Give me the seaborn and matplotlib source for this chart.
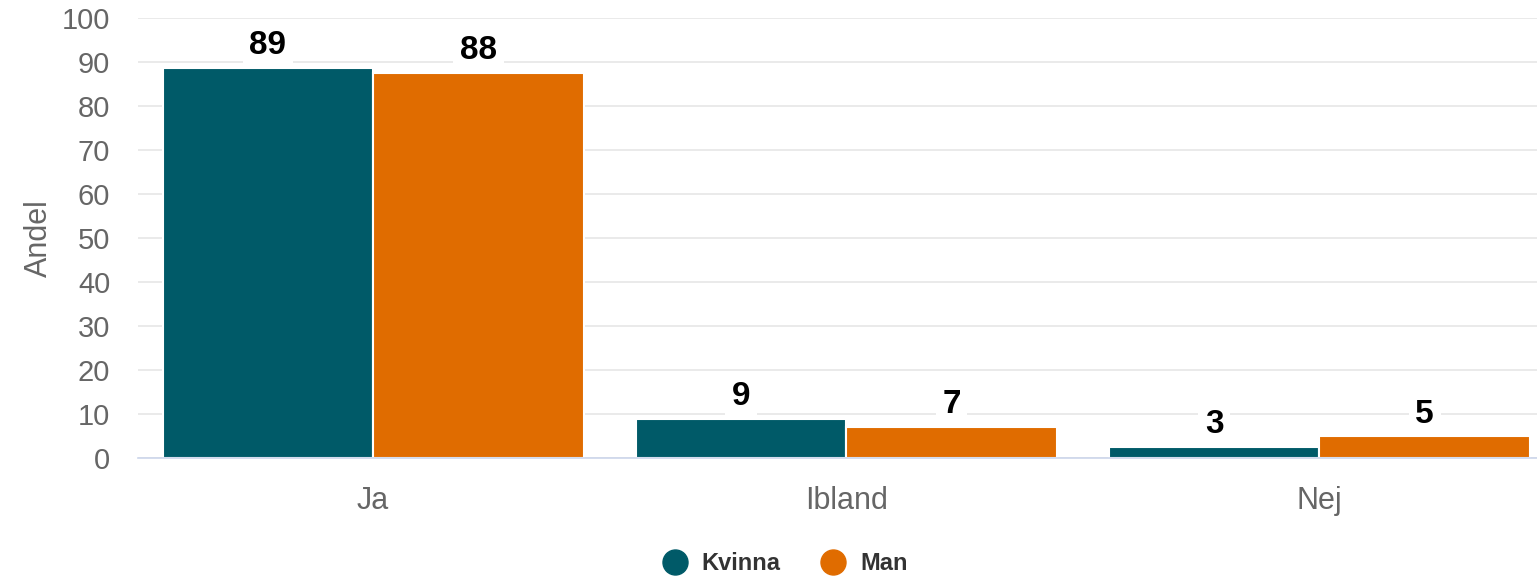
import matplotlib as mpl

mpl.use('Agg')
import pandas as pd
import matplotlib.pyplot as plt
import seaborn as sns
from matplotlib.lines import Line2D

# data
categories = ['Ja', 'Ibland', 'Nej']
groups = ['Kvinna', 'Man']
kvinna = [88.6, 8.9, 2.6]
man = [87.6, 7.1, 4.9]
colors = ['#005a68', '#e06c00']

df = pd.DataFrame({
    'svar': categories * 2,
    'kon': [groups[0]] * 3 + [groups[1]] * 3,
    'andel': kvinna + man,
})

sns.set_style('white')
plt.rcParams['font.family'] = ['Liberation Sans', 'DejaVu Sans']

fig = plt.figure(figsize=(15.37, 5.85), dpi=100)
ax = fig.add_axes([0.0898, 0.217, 0.9102, 0.752])

sns.barplot(data=df, x='svar', y='andel', hue='kon', order=categories,
            hue_order=groups, palette=colors, width=0.89, saturation=1,
            edgecolor='white', linewidth=1.5, ax=ax, legend=False, zorder=2)

for cont in ax.containers:
    ax.bar_label(cont, fmt='%.0f', padding=5, fontsize=24, fontweight='bold',
                 color='black',
                 bbox=dict(boxstyle='square,pad=0.2', fc='white', ec='none'))

ax.set_ylim(0, 100)
ax.set_xlim(-0.497, 2.46)
ax.set_yticks(range(0, 101, 10))
ax.yaxis.grid(True, color='#e6e6e6', linewidth=1.2, zorder=0)
ax.set_axisbelow(True)
for s in ['top', 'right', 'left']:
    ax.spines[s].set_visible(False)
ax.spines['bottom'].set_color('#ccd6eb')
ax.spines['bottom'].set_linewidth(1.2)
ax.tick_params(axis='both', length=0, labelcolor='#666666')
ax.tick_params(axis='x', pad=20, labelsize=22)
ax.tick_params(axis='y', pad=20, labelsize=21)
ax.set_xlabel('')
ax.set_ylabel('Andel', fontsize=22, color='#666666', labelpad=6)
ax.patch.set_alpha(0)

handles = [Line2D([0], [0], marker='o', linestyle='', markersize=18,
                  markerfacecolor=c, markeredgecolor=c) for c in colors]
leg = fig.legend(handles, groups, loc='center', bbox_to_anchor=(0.507, 0.037),
                 ncol=2, frameon=False, handletextpad=0.15, columnspacing=1.2,
                 prop={'size': 17, 'weight': 'bold'})
for t in leg.get_texts():
    t.set_color('#333333')

plt.savefig('out.png', dpi=100)
